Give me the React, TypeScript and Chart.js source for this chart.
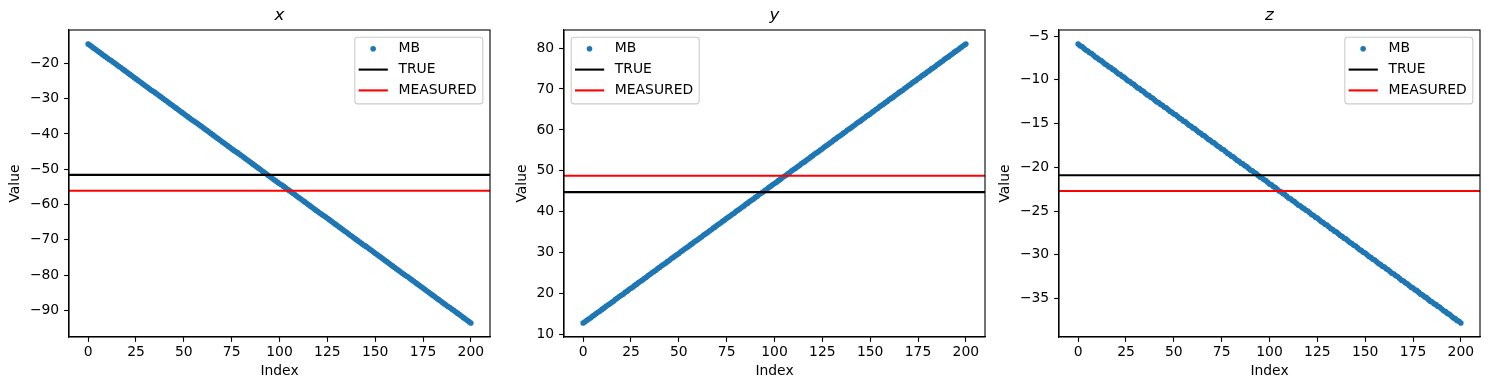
import React, { useEffect, useRef } from "react";
import { Chart, registerables } from "chart.js";

Chart.register(...registerables);

const PANEL_TITLES = ["x", "y", "z"];
const SERIES_LABELS = ["MB", "TRUE", "MEASURED"];

const X_MB = [
  -14.5, -14.9, -15.3, -15.7, -16.1, -16.5, -16.9, -17.3, -17.7, -18.1,
  -18.5, -18.9, -19.2, -19.6, -20.0, -20.4, -20.8, -21.2, -21.6, -22.0,
  -22.4, -22.8, -23.2, -23.6, -24.0, -24.4, -24.8, -25.2, -25.6, -26.0,
  -26.4, -26.8, -27.2, -27.6, -27.9, -28.3, -28.7, -29.1, -29.5, -29.9,
  -30.3, -30.7, -31.1, -31.5, -31.9, -32.3, -32.7, -33.1, -33.5, -33.9,
  -34.3, -34.7, -35.1, -35.5, -35.9, -36.3, -36.6, -37.0, -37.4, -37.8,
  -38.2, -38.6, -39.0, -39.4, -39.8, -40.2, -40.6, -41.0, -41.4, -41.8,
  -42.2, -42.6, -43.0, -43.4, -43.8, -44.2, -44.6, -45.0, -45.3, -45.7,
  -46.1, -46.5, -46.9, -47.3, -47.7, -48.1, -48.5, -48.9, -49.3, -49.7,
  -50.1, -50.5, -50.9, -51.3, -51.7, -52.1, -52.5, -52.9, -53.3, -53.7,
  -54.1, -54.4, -54.8, -55.2, -55.6, -56.0, -56.4, -56.8, -57.2, -57.6,
  -58.0, -58.4, -58.8, -59.2, -59.6, -60.0, -60.4, -60.8, -61.2, -61.6,
  -62.0, -62.4, -62.8, -63.1, -63.5, -63.9, -64.3, -64.7, -65.1, -65.5,
  -65.9, -66.3, -66.7, -67.1, -67.5, -67.9, -68.3, -68.7, -69.1, -69.5,
  -69.9, -70.3, -70.7, -71.1, -71.5, -71.8, -72.2, -72.6, -73.0, -73.4,
  -73.8, -74.2, -74.6, -75.0, -75.4, -75.8, -76.2, -76.6, -77.0, -77.4,
  -77.8, -78.2, -78.6, -79.0, -79.4, -79.8, -80.2, -80.5, -80.9, -81.3,
  -81.7, -82.1, -82.5, -82.9, -83.3, -83.7, -84.1, -84.5, -84.9, -85.3,
  -85.7, -86.1, -86.5, -86.9, -87.3, -87.7, -88.1, -88.5, -88.9, -89.2,
  -89.6, -90.0, -90.4, -90.8, -91.2, -91.6, -92.0, -92.4, -92.8, -93.2,
  -93.6,
];

const Y_MB = [
  12.8, 13.1, 13.5, 13.8, 14.1, 14.5, 14.8, 15.2, 15.5, 15.8,
  16.2, 16.5, 16.9, 17.2, 17.5, 17.9, 18.2, 18.6, 18.9, 19.3,
  19.6, 19.9, 20.3, 20.6, 21.0, 21.3, 21.6, 22.0, 22.3, 22.7,
  23.0, 23.3, 23.7, 24.0, 24.4, 24.7, 25.1, 25.4, 25.7, 26.1,
  26.4, 26.8, 27.1, 27.4, 27.8, 28.1, 28.5, 28.8, 29.2, 29.5,
  29.8, 30.2, 30.5, 30.9, 31.2, 31.5, 31.9, 32.2, 32.6, 32.9,
  33.2, 33.6, 33.9, 34.3, 34.6, 34.9, 35.3, 35.6, 36.0, 36.3,
  36.7, 37.0, 37.3, 37.7, 38.0, 38.4, 38.7, 39.0, 39.4, 39.7,
  40.1, 40.4, 40.7, 41.1, 41.4, 41.8, 42.1, 42.5, 42.8, 43.1,
  43.5, 43.8, 44.2, 44.5, 44.8, 45.2, 45.5, 45.9, 46.2, 46.6,
  46.9, 47.2, 47.6, 47.9, 48.3, 48.6, 48.9, 49.3, 49.6, 50.0,
  50.3, 50.6, 51.0, 51.3, 51.7, 52.0, 52.3, 52.7, 53.0, 53.4,
  53.7, 54.1, 54.4, 54.7, 55.1, 55.4, 55.8, 56.1, 56.4, 56.8,
  57.1, 57.5, 57.8, 58.2, 58.5, 58.8, 59.2, 59.5, 59.9, 60.2,
  60.5, 60.9, 61.2, 61.6, 61.9, 62.2, 62.6, 62.9, 63.3, 63.6,
  63.9, 64.3, 64.6, 65.0, 65.3, 65.7, 66.0, 66.3, 66.7, 67.0,
  67.4, 67.7, 68.0, 68.4, 68.7, 69.1, 69.4, 69.7, 70.1, 70.4,
  70.8, 71.1, 71.5, 71.8, 72.1, 72.5, 72.8, 73.2, 73.5, 73.8,
  74.2, 74.5, 74.9, 75.2, 75.5, 75.9, 76.2, 76.6, 76.9, 77.3,
  77.6, 77.9, 78.3, 78.6, 79.0, 79.3, 79.6, 80.0, 80.3, 80.7,
  81.0,
];

const Z_MB = [
  -5.9, -6.1, -6.2, -6.4, -6.6, -6.7, -6.9, -7.0, -7.2, -7.4,
  -7.5, -7.7, -7.8, -8.0, -8.2, -8.3, -8.5, -8.6, -8.8, -8.9,
  -9.1, -9.3, -9.4, -9.6, -9.7, -9.9, -10.1, -10.2, -10.4, -10.5,
  -10.7, -10.9, -11.0, -11.2, -11.3, -11.5, -11.7, -11.8, -12.0, -12.1,
  -12.3, -12.5, -12.6, -12.8, -12.9, -13.1, -13.2, -13.4, -13.6, -13.7,
  -13.9, -14.0, -14.2, -14.4, -14.5, -14.7, -14.8, -15.0, -15.2, -15.3,
  -15.5, -15.6, -15.8, -16.0, -16.1, -16.3, -16.4, -16.6, -16.8, -16.9,
  -17.1, -17.2, -17.4, -17.6, -17.7, -17.9, -18.0, -18.2, -18.4, -18.5,
  -18.7, -18.8, -19.0, -19.2, -19.3, -19.5, -19.6, -19.8, -19.9, -20.1,
  -20.3, -20.4, -20.6, -20.7, -20.9, -21.1, -21.2, -21.4, -21.5, -21.7,
  -21.9, -22.0, -22.2, -22.3, -22.5, -22.7, -22.8, -23.0, -23.1, -23.3,
  -23.5, -23.6, -23.8, -23.9, -24.1, -24.3, -24.4, -24.6, -24.7, -24.9,
  -25.0, -25.2, -25.4, -25.5, -25.7, -25.8, -26.0, -26.2, -26.3, -26.5,
  -26.6, -26.8, -27.0, -27.1, -27.3, -27.4, -27.6, -27.8, -27.9, -28.1,
  -28.2, -28.4, -28.6, -28.7, -28.9, -29.0, -29.2, -29.4, -29.5, -29.7,
  -29.8, -30.0, -30.2, -30.3, -30.5, -30.6, -30.8, -31.0, -31.1, -31.3,
  -31.4, -31.6, -31.7, -31.9, -32.1, -32.2, -32.4, -32.5, -32.7, -32.9,
  -33.0, -33.2, -33.3, -33.5, -33.7, -33.8, -34.0, -34.1, -34.3, -34.5,
  -34.6, -34.8, -34.9, -35.1, -35.3, -35.4, -35.6, -35.7, -35.9, -36.0,
  -36.2, -36.4, -36.5, -36.7, -36.8, -37.0, -37.2, -37.3, -37.5, -37.6,
  -37.8,
];

const TRUE_VALUES = [-51.6, 44.8, -20.9];
const MEASURED_VALUES = [-56.1, 48.8, -22.7];

const X_TICKS = [0, 25, 50, 75, 100, 125, 150, 175, 200];
const Y_TICKS_X = [-90, -80, -70, -60, -50, -40, -30, -20];
const Y_TICKS_Y = [10, 20, 30, 40, 50, 60, 70, 80];
const Y_TICKS_Z = [-35, -30, -25, -20, -15, -10, -5];
const INDEX_MIN = -10;
const INDEX_MAX = 210;

const FONT = "DejaVu Sans";
const BLUE = "#1f77b4";
const fmt = (v: number) => String(v).replace("-", "\u2212");

type PanelProps = {
  idx: number;
  values: number[];
  yTicks: number[];
  legendLeft: boolean;
  yTitlePad: number;
};

function Panel({ idx, values, yTicks, legendLeft, yTitlePad }: PanelProps) {
  const ref = useRef<HTMLCanvasElement>(null);

  useEffect(() => {
    const canvas = ref.current;
    if (!canvas) return;
    const points = values.map((v, i) => ({ x: i, y: v }));
    const all = [...values, TRUE_VALUES[idx], MEASURED_VALUES[idx]];
    const lo = Math.min(...all);
    const hi = Math.max(...all);
    const margin = (hi - lo) * 0.05;

    const framePlugin = {
      id: "frameAndLegend",
      afterDraw(chart: any) {
        const { ctx, chartArea: a } = chart;
        ctx.save();
        ctx.strokeStyle = "#000";
        ctx.lineWidth = 1.1;
        ctx.strokeRect(a.left, a.top, a.right - a.left, a.bottom - a.top);

        ctx.font = `13.9px '${FONT}'`;
        const textW = Math.max(...SERIES_LABELS.map((t) => ctx.measureText(t).width));
        const w = 43.6 + textW + 6;
        const h = 66.7;
        const inset = 7.2;
        const bx = legendLeft ? a.left + inset : a.right - inset - w;
        const by = a.top + inset;
        ctx.beginPath();
        if ((ctx as any).roundRect) (ctx as any).roundRect(bx, by, w, h, 2.8);
        else ctx.rect(bx, by, w, h);
        ctx.fillStyle = "rgba(255,255,255,0.8)";
        ctx.fill();
        ctx.strokeStyle = "#cccccc";
        ctx.lineWidth = 1.1;
        ctx.stroke();

        const rows = [by + 11.6, by + 32.4, by + 53.2];
        const colors = [BLUE, "#000000", "#ff0000"];
        ctx.textBaseline = "middle";
        ctx.textAlign = "left";
        rows.forEach((ry, i) => {
          if (i === 0) {
            ctx.beginPath();
            ctx.arc(bx + 18.3, ry, 2.1, 0, Math.PI * 2);
            ctx.fillStyle = BLUE;
            ctx.fill();
            ctx.strokeStyle = BLUE;
            ctx.lineWidth = 1.4;
            ctx.stroke();
          } else {
            ctx.beginPath();
            ctx.moveTo(bx + 3.8, ry);
            ctx.lineTo(bx + 33, ry);
            ctx.strokeStyle = colors[i];
            ctx.lineWidth = 2.1;
            ctx.stroke();
          }
          ctx.fillStyle = "#000";
          ctx.fillText(SERIES_LABELS[i], bx + 43.6, ry);
        });
        ctx.restore();
      },
    };

    const tickFont = { family: FONT, size: 13.9 };
    const chart = new Chart(canvas, {
      type: "scatter",
      data: {
        datasets: [
          {
            label: SERIES_LABELS[0],
            data: points,
            backgroundColor: BLUE,
            borderColor: BLUE,
            pointRadius: 2.1,
            pointBorderWidth: 1.4,
            pointHoverRadius: 2.1,
            showLine: false,
            order: 3,
          },
          {
            label: SERIES_LABELS[1],
            data: [
              { x: INDEX_MIN, y: TRUE_VALUES[idx] },
              { x: INDEX_MAX, y: TRUE_VALUES[idx] },
            ],
            borderColor: "#000000",
            backgroundColor: "#000000",
            borderWidth: 2.1,
            pointRadius: 0,
            showLine: true,
            order: 2,
          },
          {
            label: SERIES_LABELS[2],
            data: [
              { x: INDEX_MIN, y: MEASURED_VALUES[idx] },
              { x: INDEX_MAX, y: MEASURED_VALUES[idx] },
            ],
            borderColor: "#ff0000",
            backgroundColor: "#ff0000",
            borderWidth: 2.1,
            pointRadius: 0,
            showLine: true,
            order: 1,
          },
        ],
      } as any,
      options: {
        responsive: false,
        animation: false,
        devicePixelRatio: 1,
        events: [],
        layout: { padding: { left: 0, right: 5, top: 0, bottom: 0 } },
        plugins: {
          legend: { display: false },
          tooltip: { enabled: false },
          title: {
            display: true,
            fullSize: false,
            text: PANEL_TITLES[idx],
            color: "#000",
            font: { family: FONT, size: 16.7, style: "italic", weight: "normal", lineHeight: 1.2 },
            padding: { top: 6, bottom: 3.96 },
          },
        },
        scales: {
          x: {
            type: "linear",
            min: INDEX_MIN,
            max: INDEX_MAX,
            afterBuildTicks: (s: any) => {
              s.ticks = X_TICKS.map((v) => ({ value: v }));
            },
            afterFit: (s: any) => {
              s.height = 53;
            },
            ticks: {
              color: "#000",
              font: tickFont,
              padding: 1.7,
              maxRotation: 0,
              autoSkip: false,
              callback: (v: any) => fmt(v),
            },
            grid: {
              display: true,
              drawOnChartArea: false,
              drawTicks: true,
              tickLength: 4.9,
              tickColor: "#000",
              tickWidth: 1.1,
            },
            border: { display: true, color: "#000", width: 1.1 },
            title: {
              display: true,
              text: "Index",
              color: "#000",
              font: tickFont,
              padding: { top: 0, bottom: 10 },
            },
          },
          y: {
            type: "linear",
            min: lo - margin,
            max: hi + margin,
            afterBuildTicks: (s: any) => {
              s.ticks = yTicks.map((v) => ({ value: v }));
            },
            afterFit: (s: any) => {
              s.width = 69;
            },
            ticks: {
              color: "#000",
              font: tickFont,
              padding: 4.9,
              autoSkip: false,
              callback: (v: any) => fmt(v),
            },
            grid: {
              display: true,
              drawOnChartArea: false,
              drawTicks: true,
              tickLength: 4.9,
              tickColor: "#000",
              tickWidth: 1.1,
            },
            border: { display: true, color: "#000", width: 1.1 },
            title: {
              display: true,
              text: "Value",
              color: "#000",
              font: tickFont,
              padding: { top: yTitlePad, bottom: 0 },
            },
          },
        },
      } as any,
      plugins: [framePlugin],
    });
    return () => chart.destroy();
  }, [idx, values, yTicks, legendLeft, yTitlePad]);

  return (
    <canvas
      ref={ref}
      width={495}
      height={390}
      style={{ position: "absolute", left: idx * 495, top: 0, width: 495, height: 390 }}
    />
  );
}

export default function App() {
  return (
    <div
      style={{
        position: "absolute",
        left: 0,
        top: 0,
        width: 1490,
        height: 390,
        background: "#ffffff",
        overflow: "hidden",
      }}
    >
      <Panel idx={0} values={X_MB} yTicks={Y_TICKS_X} legendLeft={false} yTitlePad={7.4} />
      <Panel idx={1} values={Y_MB} yTicks={Y_TICKS_Y} legendLeft={true} yTitlePad={19.0} />
      <Panel idx={2} values={Z_MB} yTicks={Y_TICKS_Z} legendLeft={false} yTitlePad={7.4} />
    </div>
  );
}
